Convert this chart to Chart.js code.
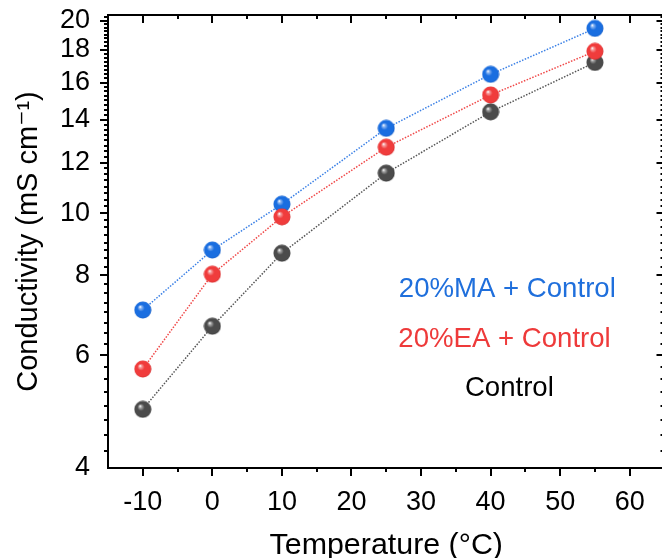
<!DOCTYPE html>
<html>
<head>
<meta charset="utf-8">
<script src="https://cdn.jsdelivr.net/npm/chart.js@4/dist/chart.umd.min.js"></script>
<style>
  html, body { margin: 0; padding: 0; overflow: hidden; background: #fff; }
  #wrap { width: 670px; height: 558px; }
</style>
</head>
<body>
<div id="wrap"><canvas id="myChart" width="670" height="558"></canvas></div>
<script>
// data
const temps = [-10, 0, 10, 25, 40, 55];
const maControl = [7.06, 8.76, 10.33, 13.57, 16.48, 19.44];
const eaControl = [5.71, 8.03, 9.87, 12.68, 15.3, 17.9];
const control = [4.94, 6.66, 8.66, 11.55, 14.4, 17.2];

const xTicks = [-10, 0, 10, 20, 30, 40, 50, 60];
const yTicks = [4, 6, 8, 10, 12, 14, 16, 18, 20];
const seriesNames = ["20%MA + Control", "20%EA + Control", "Control"];

Chart.defaults.font.family = '"Liberation Sans", Arial, "DejaVu Sans", sans-serif';
Chart.defaults.color = "#000";

// shaded ball marker
function ball(color, light, dark) {
  const c = document.createElement("canvas");
  c.width = 18;
  c.height = 18;
  const g = c.getContext("2d");
  const grad = g.createRadialGradient(6.2, 5.8, 0.3, 9, 9, 9);
  grad.addColorStop(0, "#ffffff");
  grad.addColorStop(0.12, light);
  grad.addColorStop(0.38, color);
  grad.addColorStop(0.85, color);
  grad.addColorStop(1, dark);
  g.fillStyle = grad;
  g.beginPath();
  g.arc(9, 9, 8.5, 0, Math.PI * 2);
  g.fill();
  return c;
}

function pts(ys) {
  return temps.map((t, i) => ({ x: t, y: ys[i] }));
}

const frame = {
  id: "frame",
  afterDraw(chart) {
    const { ctx, chartArea: a, scales } = chart;
    const x = scales.x, y = scales.y;
    ctx.save();
    ctx.strokeStyle = "#000";
    ctx.lineWidth = 2;
    ctx.strokeRect(a.left, a.top, a.right - a.left, a.bottom - a.top);
    ctx.beginPath();
    for (let v = -10; v <= 60; v += 5) {
      const px = Math.round(x.getPixelForValue(v));
      const len = v % 10 === 0 ? 8 : 4;
      ctx.moveTo(px, a.bottom);
      ctx.lineTo(px, a.bottom + len);
      ctx.moveTo(px, a.top);
      ctx.lineTo(px, a.top + len);
    }
    for (let i = 17; i <= 81; i++) {
      const v = i / 4;
      const py = Math.round(y.getPixelForValue(v));
      const len = i % 8 === 0 ? 8 : 4;
      ctx.moveTo(a.left, py);
      ctx.lineTo(a.left - len, py);
      ctx.moveTo(a.right, py);
      ctx.lineTo(a.right - len, py);
    }
    ctx.stroke();

    // series labels inside the plot
    ctx.font = '27.6px "Liberation Sans", Arial, sans-serif';
    ctx.textAlign = "center";
    ctx.textBaseline = "middle";
    const notes = [
      [seriesNames[0], 42.4, 7.61, "#1f6fdc"],
      [seriesNames[1], 42.0, 6.36, "#ee3a3a"],
      [seriesNames[2], 42.7, 5.33, "#000000"],
    ];
    notes.forEach(([txt, vx, vy, col]) => {
      ctx.fillStyle = col;
      ctx.fillText(txt, x.getPixelForValue(vx), y.getPixelForValue(vy));
    });
    ctx.restore();
  },
};

new Chart(document.getElementById("myChart"), {
  type: "line",
  data: {
    datasets: [
      {
        label: seriesNames[1],
        data: pts(eaControl),
        borderColor: "#f04848",
        borderWidth: 1.5,
        borderDash: [1.5, 1.5],
        pointStyle: ball("#f03c3c", "#f7a0a0", "#c42222"),
        order: 0,
      },
      {
        label: seriesNames[2],
        data: pts(control),
        borderColor: "#555555",
        borderWidth: 1.5,
        borderDash: [1.5, 1.5],
        pointStyle: ball("#4b4b4b", "#a8a8a8", "#2c2c2c"),
        order: 1,
      },
      {
        label: seriesNames[0],
        data: pts(maControl),
        borderColor: "#3b80e6",
        borderWidth: 1.5,
        borderDash: [1.5, 1.5],
        pointStyle: ball("#1a6ee0", "#8fb8f2", "#0f52b8"),
        order: 2,
      },
    ],
  },
  options: {
    responsive: false,
    animation: false,
    events: [],
    layout: { padding: { top: 15, right: 2, left: 0, bottom: 0 } },
    plugins: {
      legend: { display: false },
      tooltip: { enabled: false },
    },
    scales: {
      x: {
        type: "linear",
        min: -15,
        max: 65,
        afterBuildTicks: (s) => { s.ticks = xTicks.map((v) => ({ value: v })); },
        afterFit: (s) => { s.height = 90; s.paddingLeft = 0; s.paddingRight = 0; },
        grid: { display: false, drawTicks: false },
        border: { display: false },
        ticks: {
          autoSkip: false,
          maxRotation: 0,
          padding: 18,
          font: { size: 27 },
          callback: (v) => String(v),
        },
        title: {
          display: true,
          text: "Temperature (°C)",
          font: { size: 30.4, lineHeight: 0.8 },
          padding: { top: 0, bottom: 0 },
        },
      },
      y: {
        type: "logarithmic",
        min: 4,
        max: 20.4,
        afterBuildTicks: (s) => { s.ticks = yTicks.map((v) => ({ value: v })); },
        afterFit: (s) => { s.width = 108; s.paddingTop = 0; s.paddingBottom = 0; },
        grid: { display: false, drawTicks: false },
        border: { display: false },
        ticks: {
          autoSkip: false,
          padding: 18,
          font: { size: 27 },
          callback: (v) => String(v),
        },
        title: {
          display: true,
          text: "Conductivity (mS cm⁻¹)",
          font: { size: 29, lineHeight: 1.2 },
          padding: { top: 12, bottom: 0 },
        },
      },
    },
  },
  plugins: [frame],
});
</script>
</body>
</html>
